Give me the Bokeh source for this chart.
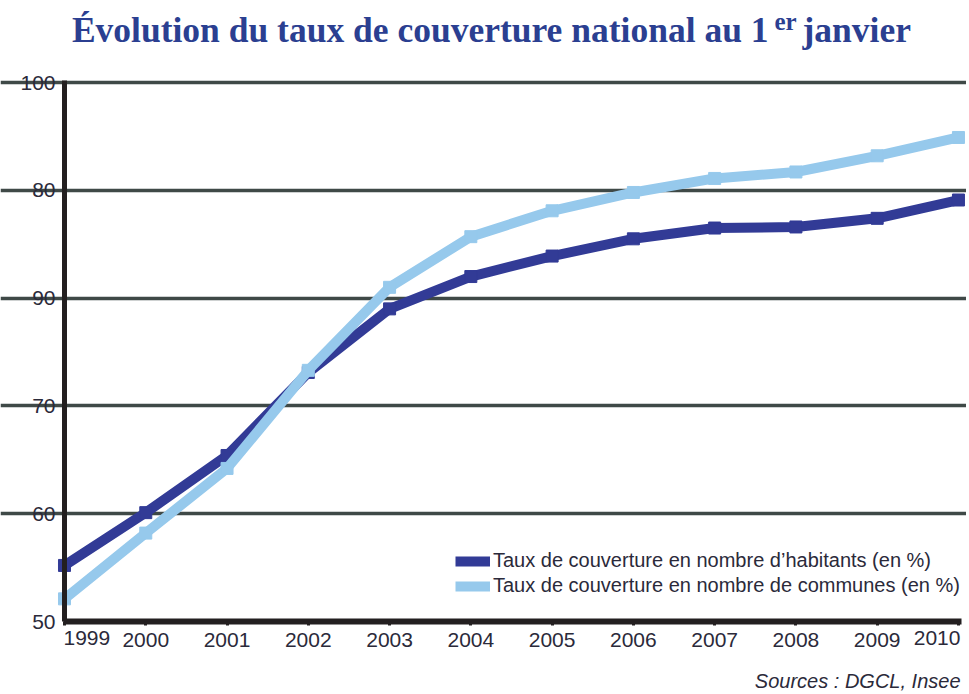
from bokeh.plotting import figure
from bokeh.models import Range1d, Label, Legend, LegendItem, FixedTicker
from bokeh.embed import file_html
from bokeh.resources import INLINE

years = [1999, 2000, 2001, 2002, 2003, 2004, 2005, 2006, 2007, 2008, 2009, 2010]
habitants = [55.2, 60.1, 65.4, 73.1, 79.0, 82.0, 83.9, 85.5, 86.5, 86.6, 87.4, 89.1]
communes = [52.1, 58.2, 64.2, 73.3, 81.0, 85.7, 88.1, 89.8, 91.1, 91.7, 93.2, 94.9]
y_ticks = [50, 60, 70, 80, 90, 100]
y_tick_labels = ["50", "60", "70", "90", "80", "100"]
series_names = ["Taux de couverture en nombre d\u2019habitants (en %)",
                "Taux de couverture en nombre de communes (en %)"]
title_main = "\u00c9volution du taux de couverture national au 1"
title_sup = "er"
title_end = "janvier"
source_text = "Sources : DGCL, Insee"

NAVY = "#323b96"
TITLE_COL = "#2b3f91"
LIGHT = "#96c9ec"
TXT = "#2b2a3a"
AXIS = "#231f20"
GRID = "#3f4947"
SANS = "Liberation Sans"

W, H = 966, 692
# the frame covers the whole canvas; axes are pinned at 1999 / 50
p = figure(width=W, height=H, output_backend="svg", toolbar_location=None,
           x_range=Range1d(1998.2125, 2010.099), y_range=Range1d(43.414, 107.607),
           min_border=0)
p.outline_line_color = None
p.background_fill_color = "white"

# axes
p.yaxis.fixed_location = years[0]
p.yaxis.bounds = (y_ticks[0], 100.2)
p.yaxis.ticker = FixedTicker(ticks=y_ticks)
p.yaxis.major_label_overrides = {t: l for t, l in zip(y_ticks, y_tick_labels)}
p.yaxis.axis_line_width = 5
p.yaxis.axis_line_color = AXIS
p.yaxis.major_tick_line_color = None
p.yaxis.minor_tick_line_color = None
p.yaxis.major_label_text_font = SANS
p.yaxis.major_label_text_font_size = "21px"
p.yaxis.major_label_text_color = TXT
p.yaxis.major_label_standoff = 3

p.xaxis.fixed_location = y_ticks[0]
p.xaxis.bounds = (years[0] - 0.01, 2010.04)
p.xaxis.ticker = FixedTicker(ticks=years)
p.xaxis.major_label_overrides = {years[0]: "", years[-1]: ""}
p.xaxis.axis_line_width = 6
p.xaxis.axis_line_color = AXIS
p.xaxis.major_tick_line_color = AXIS
p.xaxis.major_tick_line_width = 3
p.xaxis.major_tick_in = 0
p.xaxis.major_tick_out = 4
p.xaxis.minor_tick_line_color = None
p.xaxis.major_label_text_font = SANS
p.xaxis.major_label_text_font_size = "21px"
p.xaxis.major_label_text_color = TXT
p.xaxis.major_label_standoff = 7

p.xgrid.grid_line_color = None
p.ygrid.ticker = FixedTicker(ticks=y_ticks[1:])
p.ygrid.bounds = (years[0], years[-1])
p.ygrid.grid_line_color = GRID
p.ygrid.grid_line_width = 3.5

# end x labels (shifted inward as in the original)
for yr, align, dx in ((years[0], "left", -1), (years[-1], "right", 2)):
    p.add_layout(Label(x=yr, y=H - 630, x_units="data", y_units="screen",
                       text=str(yr), text_align=align, text_baseline="top",
                       text_font=SANS, text_font_size="21px",
                       text_color=TXT, x_offset=dx))

r1 = p.line(years, habitants, line_color=NAVY, line_width=10)
p.scatter(years, habitants, marker="square", size=12, color=NAVY)
r2 = p.line(years, communes, line_color=LIGHT, line_width=10)
p.scatter(years, communes, marker="square", size=12, color=LIGHT)

legend = Legend(items=[LegendItem(label=series_names[0], renderers=[r1]),
                       LegendItem(label=series_names[1], renderers=[r2])],
                location=(455, 95), orientation="vertical")
legend.glyph_width = 35
legend.glyph_height = 22
legend.label_height = 22
legend.spacing = 2
legend.padding = 0
legend.margin = 0
legend.label_standoff = 3
legend.border_line_color = None
legend.background_fill_alpha = 0
legend.label_text_font = SANS
legend.label_text_font_size = "20px"
legend.label_text_color = TXT
p.add_layout(legend, "center")

# title with superscript
TITLE_FONT = "Liberation Serif"
p.add_layout(Label(x=768, y=H - 29, x_units="screen", y_units="screen",
                   text=title_main, text_align="right", text_baseline="middle",
                   text_font=TITLE_FONT, text_font_style="bold",
                   text_font_size="35.5px", text_color=TITLE_COL))
p.add_layout(Label(x=774, y=H - 21, x_units="screen", y_units="screen",
                   text=title_sup, text_align="left", text_baseline="middle",
                   text_font=TITLE_FONT, text_font_style="bold",
                   text_font_size="25px", text_color=TITLE_COL))
p.add_layout(Label(x=802, y=H - 29, x_units="screen", y_units="screen",
                   text=title_end, text_align="left", text_baseline="middle",
                   text_font=TITLE_FONT, text_font_style="bold",
                   text_font_size="35.5px", text_color=TITLE_COL))

p.add_layout(Label(x=960, y=H - 680, x_units="screen", y_units="screen",
                   text=source_text, text_align="right", text_baseline="middle",
                   text_font=SANS, text_font_style="italic",
                   text_font_size="20px", text_color=TXT))

open("out.html", "w").write(file_html(p, INLINE))
